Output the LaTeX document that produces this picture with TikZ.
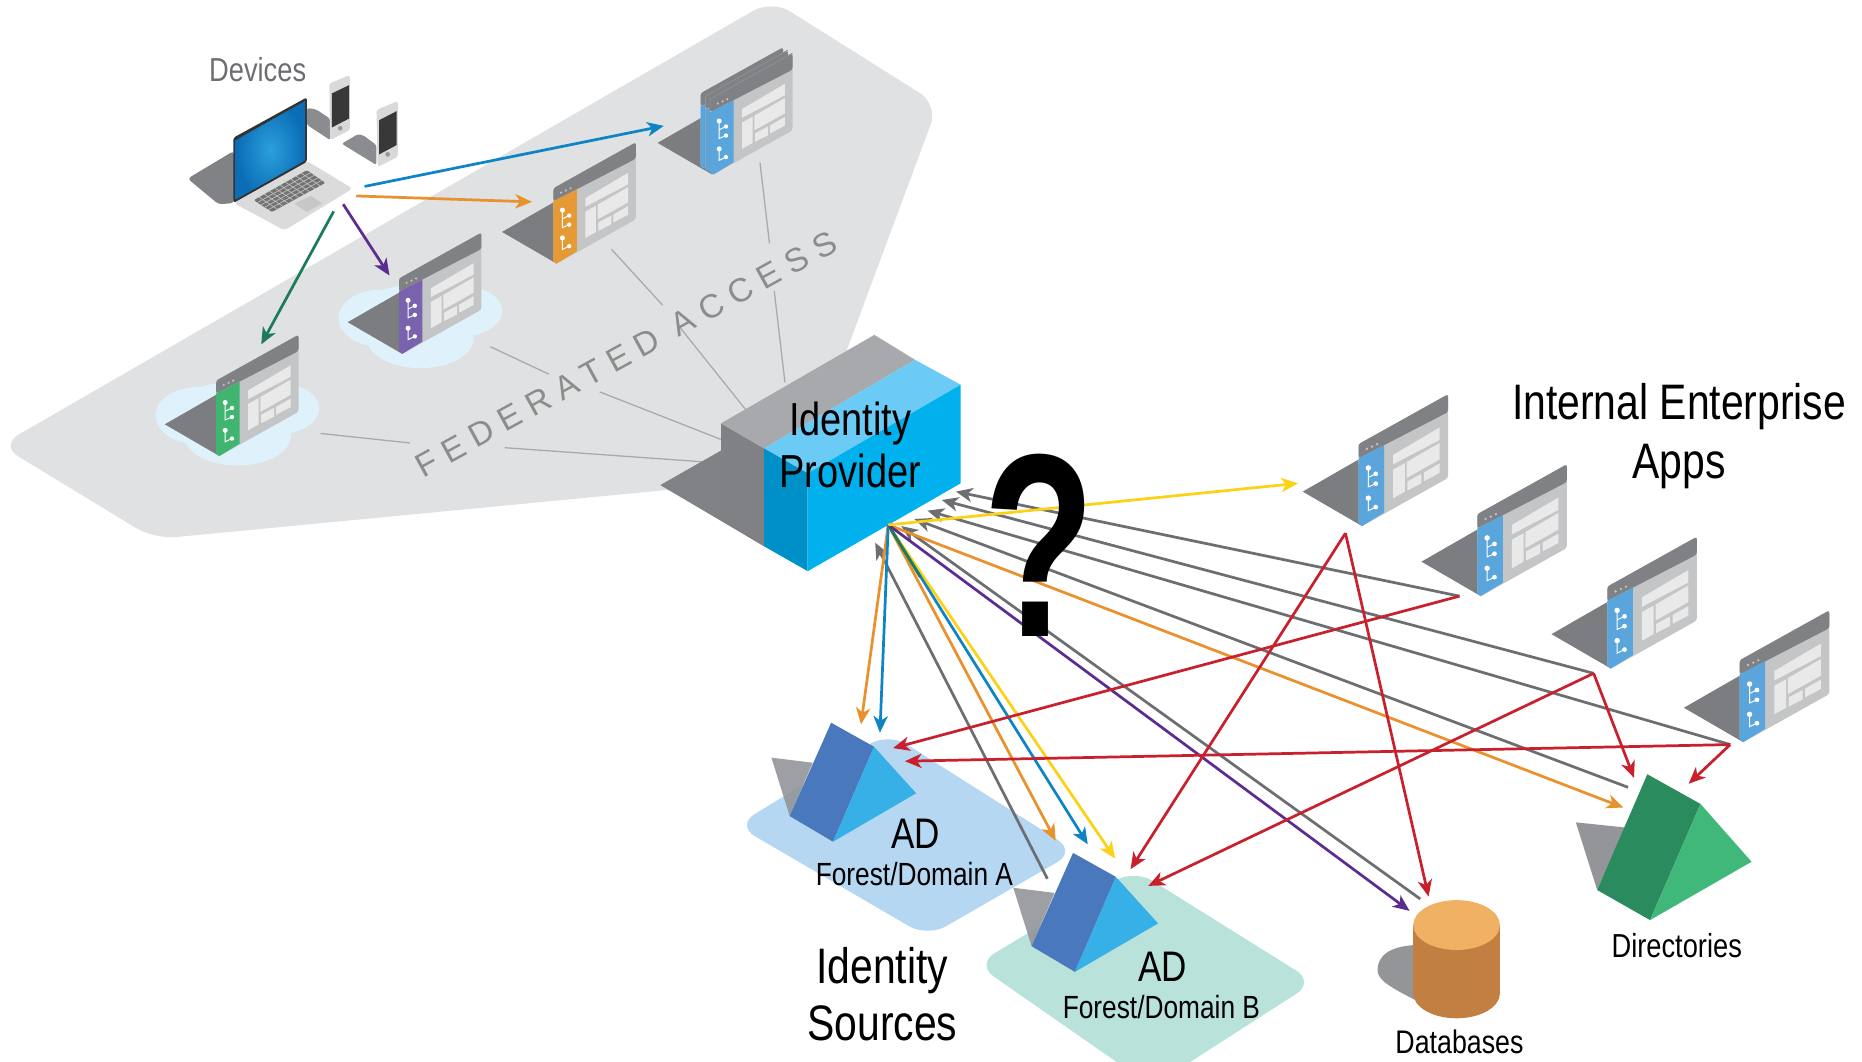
\documentclass[tikz,border=0pt]{standalone}
\usepackage{fontspec}
\setmainfont{Liberation Sans}[FakeStretch=0.82]
\newfontfamily\plainfont{Liberation Sans}
\newfontfamily\qfont{Liberation Sans}[FakeStretch=0.70]
\usetikzlibrary{arrows.meta,calc}
\definecolor{cfed}{HTML}{E0E1E2}
\definecolor{cshad}{HTML}{808285}
\definecolor{cbar}{HTML}{808184}
\definecolor{cpanel}{HTML}{C4C5C7}
\definecolor{cpane}{HTML}{E9E9EA}
\definecolor{cblue}{HTML}{5AA5DC}
\definecolor{corg}{HTML}{E59A35}
\definecolor{cpur}{HTML}{7A63AE}
\definecolor{cgrn}{HTML}{3FB56F}
\definecolor{cloud}{HTML}{DFF1FB}
\definecolor{lblue}{HTML}{0F84C4}
\definecolor{lorg}{HTML}{E8912D}
\definecolor{lpur}{HTML}{5B2D91}
\definecolor{lgrn}{HTML}{1F7A5C}
\definecolor{lyel}{HTML}{FCD116}
\definecolor{lred}{HTML}{C8202D}
\definecolor{lgry}{HTML}{6D6E71}
\definecolor{fedline}{HTML}{A9AAAC}
\definecolor{boxtopg}{HTML}{A7A9AC}
\definecolor{boxtopb}{HTML}{6BCBF5}
\definecolor{boxfront}{HTML}{00B1EE}
\definecolor{boxside}{HTML}{0090C8}
\definecolor{adDark}{HTML}{4A78BD}
\definecolor{adLight}{HTML}{36B0E6}
\definecolor{padA}{HTML}{B5D7F2}
\definecolor{padB}{HTML}{B9E3DA}
\definecolor{dirDark}{HTML}{2A8C5E}
\definecolor{dirLight}{HTML}{3FB87A}
\definecolor{pshad}{HTML}{939598}
\definecolor{dbSide}{HTML}{C17F42}
\definecolor{dbTop}{HTML}{F0B165}
\definecolor{scrIn}{HTML}{2C9FDC}
\definecolor{scrOut}{HTML}{0A6DB6}
\tikzset{
  arr/.style={line width=2.3pt,-{Stealth[length=14pt,width=12pt,inset=4pt]}},
  fedl/.style={fedline,line width=1.1pt},
  label/.style={inner sep=0pt,align=center,text=black}
}
\newcommand\appshadow[3]{%
\fill[cshad!96!black,shift={(#1,#2)},scale=#3] (-47,-29)--(0,-56)--(3,0)--cycle;}
\newcommand\appbody[4]{%
\begin{scope}[shift={(#1,#2)},scale=#3]
\fill[cpanel,rounded corners=2pt] (0,-69)--(75.4,-111)--(75.4,-40.5)--(3,0)--(0,-2)--cycle;
\fill[cbar,rounded corners=2pt] (0,-57)--(0,-69)--(75.4,-111)--(75.4,-96)--cycle;
\fill[#4] (0,-57)--(21.5,-68)--(21.5,-11.3)--(3,0)--(0,-2)--cycle;
\fill[cpane] (29.2,-60)--(68.3,-83)--(68.3,-72.5)--(29.2,-52)--cycle;
\fill[cpane] (29.2,-47.6)--(39,-53)--(39,-29)--(29.2,-23.5)--cycle;
\fill[cpane] (40.6,-54)--(68.3,-70)--(68.3,-56)--(40.6,-40.5)--cycle;
\fill[cpane] (41.2,-37.7)--(53,-44)--(53,-36)--(41.2,-30)--cycle;
\fill[cpane] (55,-45)--(68.3,-52.7)--(68.3,-44.8)--(55,-37.7)--cycle;
\fill[cpanel] (7,-65) circle (1.1pt) (11.4,-67) circle (1.1pt) (15.7,-69) circle (1.1pt);
\draw[white,line width=.8pt] (8.3,-49)--(8.3,-33)--(14.5,-35.7) (8.3,-41)--(14.5,-44) (8.3,-23.5)--(8.3,-13)--(14.5,-16);
\fill[white] (8.3,-49) circle (2.3pt) (14.5,-44) circle (2pt) (14.5,-35.7) circle (2pt) (8.3,-23.5) circle (2.3pt) (14.5,-16) circle (2pt);
\end{scope}}
\newcommand\appwin[4]{\appshadow{#1}{#2}{#3}\appbody{#1}{#2}{#3}{#4}}
\newcommand\layeredge[2]{%
\draw[black!45,line width=.8pt,shift={(#1,#2)},scale=.92] (0,-2)--(0,-69)--(75.4,-111);}
\newcommand\cloudblob[2]{%
\begin{scope}[shift={(#1,#2)}]
\fill[cloud] (320,268) ellipse [x radius=35,y radius=24]
 (386,262) ellipse [x radius=37,y radius=22]
 (354,285) ellipse [x radius=45,y radius=25]
 (350,254) ellipse [x radius=40,y radius=14];
\end{scope}}
\newcommand\adprism[1]{%
\begin{scope}[shift={#1}]
\fill[pshad,opacity=.9] (649.6,638)--(684.4,642.3)--(665,687.2)--cycle;
\fill[adDark] (699.9,608.6)--(736,628.8)--(701.5,708.8)--(665,687.2)--cycle;
\fill[adLight] (736,628.8)--(771.5,668)--(701.5,708.8)--cycle;
\end{scope}}
\begin{document}
\begin{tikzpicture}[x=1pt,y=-1pt]
\useasboundingbox (0,0) rectangle (1568,894.3);
\clip (0,0) rectangle (1568,894.3);

% named ends
\coordinate (hub) at (748,442);
\coordinate (grnEnd) at (775,486);
\coordinate (lapA) at (307,157); \coordinate (lapB) at (300,165);
\coordinate (lapC) at (289,172); \coordinate (lapD) at (281,178);
\coordinate (fedBlue) at (559,106); \coordinate (fedOrg) at (448,170);
\coordinate (fedPur) at (328,232); \coordinate (fedGrn) at (220,290);
\coordinate (appOne) at (1093,407);
\coordinate (hookOne) at (1133,449);
\coordinate (hookTwo) at (1229,502);
\coordinate (hookThree) at (1342,567);
\coordinate (hookFour) at (1457,627);
\coordinate (dirGray) at (1371,663);
\coordinate (dbGray) at (1196,757);
\coordinate (adBGray) at (882,740);
\coordinate (tipA) at (805,414); \coordinate (tipB) at (793,421);
\coordinate (tipC) at (781,430); \coordinate (tipD) at (770,437);
\coordinate (tipE) at (759,443); \coordinate (tipF) at (737,457);
\coordinate (adAorg) at (725,610); \coordinate (adAblu) at (741,617);
\coordinate (adAredA) at (752,630); \coordinate (adAredB) at (762,641);
\coordinate (adBorg) at (889,708); \coordinate (adBblu) at (916,711);
\coordinate (adByel) at (939,723);
\coordinate (adBredA) at (952,732); \coordinate (adBredB) at (967,746);
\coordinate (dirOrg) at (1367,680); \coordinate (dirRedA) at (1376,655);
\coordinate (dirRedB) at (1422,660);
\coordinate (dbPur) at (1187,767); \coordinate (dbRed) at (1203,755);

% federated area
\fill[cfed,rounded corners=18pt] (650,0)--(790,88)--(700,330)--(610,408)--(130,454)--(0,375)--cycle;

% clouds
\cloudblob{0}{0}
\cloudblob{-154}{82}

% federated spokes
\draw[fedl] (640,137)--(648,205) (652,245)--(661,322);
\draw[fedl] (515,210)--(558,257) (572,275)--(628,345);
\draw[fedl] (413,292)--(462,315) (505,330)--(607,370);
\draw[fedl] (270,365)--(345,373) (425,377)--(607,390);

\node[rotate=28.8,inner sep=0pt,text=black!45] (fedtext) at (527,298)
  {\plainfont\fontsize{28}{30}\selectfont\addfontfeature{LetterSpace=28}FEDERATED ACCESS};

% federated apps
\appshadow{597}{147}{0.92}
\appbody{590}{142}{0.92}{cblue}
\layeredge{594}{144.5}
\appbody{594}{144.5}{0.92}{cblue}
\layeredge{598}{147}
\appbody{598}{147}{0.92}{cblue}
\appwin{466}{222}{0.92}{corg}
\appwin{336}{298}{0.92}{cpur}
\appwin{182}{384}{0.92}{cgrn}

% internal apps
\appwin{1144}{443}{1}{cblue}
\appwin{1244}{502}{1}{cblue}
\appwin{1353.5}{563}{1}{cblue}
\appwin{1465}{625}{1}{cblue}

% laptop
\fill[cshad,rounded corners=3pt] (158,150.4)--(197,127)--(197,171)--(184,172)--cycle;
\fill[white!86!black,rounded corners=3pt] (197,171)--(258.4,135.5)--(297,158.8)--(239.5,194)--cycle;
\fill[black!55,rounded corners=1pt] (213.7,168.6)--(258.4,143.3)--(274,154)--(229,178.5)--cycle;
\foreach \t in {0.1,0.2,...,0.95}{
 \draw[white!78!black,line width=.5pt] ($(213.7,168.6)!\t!(258.4,143.3)$)--($(229,178.5)!\t!(274,154)$);}
\foreach \t in {0.2,0.4,0.6,0.8}{
 \draw[white!78!black,line width=.5pt] ($(213.7,168.6)!\t!(229,178.5)$)--($(258.4,143.3)!\t!(274,154)$);}
\fill[white!78!black] (248,171.4)--(262,165)--(271.2,171.4)--(258.4,178.5)--cycle;
\fill[black!80,rounded corners=1.5pt] (196.5,116)--(258.4,82)--(258.4,136.3)--(196.5,171)--cycle;
\shade[inner color=scrIn,outer color=scrOut] (198.5,118)--(257,85)--(257,135)--(198.5,168)--cycle;
% phones
\fill[cshad!92,rounded corners=2pt] (258.4,91)--(266,92)--(278,100)--(278,118)--(258.4,105)--cycle;
\fill[black!15,rounded corners=2pt] (277.4,70.3)--(294.6,63.2)--(294.6,109.6)--(278,118)--cycle;
\fill[black!78] (279.4,78.7)--(294,71.7)--(294,99.8)--(279.4,107.4)--cycle;
\fill[black!40] (286.5,108) circle (2pt);
\fill[cshad!92,rounded corners=2pt] (287.7,121)--(301.4,113)--(306,114)--(317,122.2)--(317,139)--cycle;
\fill[black!15,rounded corners=2pt] (317,92.7)--(335,85)--(335,132)--(318,140.5)--cycle;
\fill[black!78] (319.3,101.2)--(334,93.6)--(334,122.2)--(319.3,130)--cycle;
\fill[black!40] (326.5,130) circle (2pt);

% Identity Provider box
\fill[cshad] (556,408.5)--(607,379.5)--(607,435)--(643.4,460)--cycle;
\fill[cbar] (607.2,356.5)--(643.4,377.6)--(643.4,460)--(607.2,438)--cycle;
\fill[boxtopg] (607.2,356.5)--(736.3,282)--(770.6,303)--(643.4,377.6)--cycle;
\fill[boxtopb] (643.4,377.6)--(770.6,303)--(809,324)--(680.2,398.6)--cycle;
\fill[boxside] (643.4,377.6)--(680.2,398.6)--(680.2,481)--(643.4,460)--cycle;
\fill[boxfront] (680.2,398.6)--(809,324)--(809,407)--(680.2,481)--cycle;

% pads and AD prisms
\fill[padA,rounded corners=18pt] (620,695)--(748,617)--(906,717)--(781,789)--cycle;
\fill[padB,rounded corners=18pt] (822,812)--(955,732)--(1107,827)--(970,915)--cycle;
\adprism{(0,0)}
\adprism{(203.7,109.6)}

% directories
\fill[pshad] (1327,692.5)--(1368.4,696.8)--(1345,749.5)--cycle;
\fill[dirDark] (1387.2,652)--(1432,677)--(1389.5,774.8)--(1345,749.5)--cycle;
\fill[dirLight] (1432,677)--(1475,725.7)--(1389.5,774.8)--cycle;

% database
\fill[pshad] (1191.6,795.8) .. controls (1170,797) and (1160,805) .. (1160,817) .. controls (1160,825) and (1170,831) .. (1191.6,842)--cycle;
\fill[dbSide] (1190.1,779) rectangle (1263.1,836.5);
\fill[dbSide] (1226.6,836.5) ellipse [x radius=36.5,y radius=21];
\fill[dbTop] (1226.6,779) ellipse [x radius=36.5,y radius=21];

% device arrows
\draw[arr,lblue] (lapA)--(fedBlue);
\draw[arr,lorg] (lapB)--(fedOrg);
\draw[arr,lpur] (lapC)--(fedPur);
\draw[arr,lgrn] (lapD)--(fedGrn);

% gray returns
\draw[arr,lgry] (hookTwo)--(tipA);
\draw[arr,lgry] (hookThree)--(tipB);
\draw[arr,lgry] (hookFour)--(tipC);
\draw[arr,lgry] (dirGray)--(tipD);
\draw[arr,lgry] (dbGray)--(tipE);
\draw[arr,lgry] (adBGray)--(tipF);
% outgoing
\draw[arr,lorg] (hub)--(dirOrg);
\draw[arr,lorg] (hub)--(adAorg);
\draw[arr,lblue] (hub)--(adAblu);
\draw[arr,lorg] (hub)--(adBorg);
\draw[arr,lyel] (hub)--(adByel);
\draw[arr,lblue] (hub)--(adBblu);
\draw[lgrn,line width=2.3pt] (hub)--(grnEnd);
\draw[arr,lpur] (hub)--(dbPur);
\draw[arr,lyel] (hub)--(appOne);
% red
\draw[arr,lred] (hookOne)--(adBredA);
\draw[arr,lred] (hookOne)--(dbRed);
\draw[arr,lred] (hookTwo)--(adAredA);
\draw[arr,lred] (hookThree)--(adBredB);
\draw[arr,lred] (hookThree)--(dirRedA);
\draw[arr,lred] (hookFour)--(adAredB);
\draw[arr,lred] (hookFour)--(dirRedB);

% labels
\node[label,font=\fontsize{39}{44}\selectfont] (idp) at (716,375) {Identity\\Provider};
\node[inner sep=0pt] (qm) at (875,459) {\qfont\bfseries\fontsize{220}{220}\selectfont ?};
\node[inner sep=0pt,text=lgry] (dev) at (217,59) {\fontsize{28}{30}\selectfont Devices};
\node[label,font=\fontsize{42}{50}\selectfont] (iea) at (1414,367) {Internal Enterprise\\Apps};
\node[label,font=\fontsize{42}{48}\selectfont] (ids) at (743,837.5) {Identity\\Sources};
\node[label] (adA) at (771,702) {\fontsize{36}{40}\selectfont AD};
\node[label] (adAsub) at (770,736) {\fontsize{27}{30}\selectfont Forest/Domain A};
\node[label] (adB) at (979,814) {\fontsize{36}{40}\selectfont AD};
\node[label] (adBsub) at (978,848) {\fontsize{27}{30}\selectfont Forest/Domain B};
\node[label] (dirs) at (1412,796) {\fontsize{28}{30}\selectfont Directories};
\node[label] (dbs) at (1229,877) {\fontsize{27.5}{30}\selectfont Databases};
\end{tikzpicture}
\end{document}
